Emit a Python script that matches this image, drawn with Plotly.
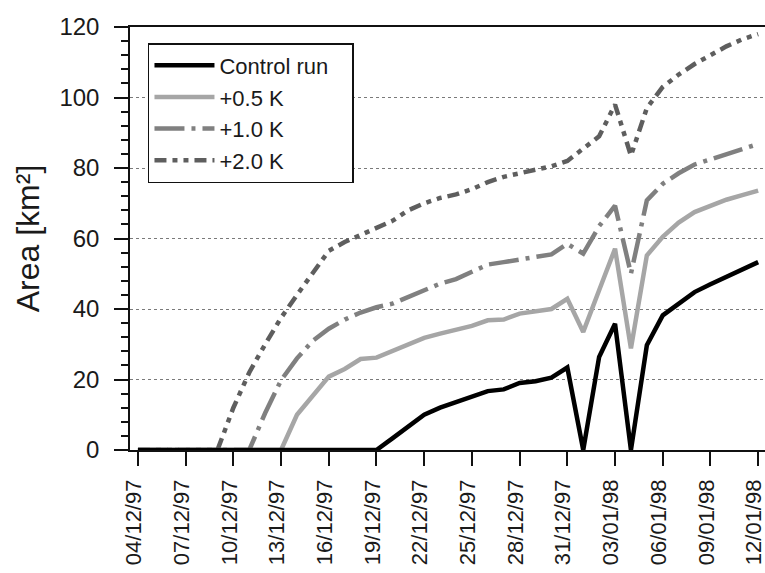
import pandas as pd
import plotly.graph_objects as go

start_date = "1997-12-04"
n_days = 40
dates = pd.date_range(start_date, periods=n_days, freq="D")

control_run = [0, 0, 0, 0, 0, 0, 0, 0, 0, 0,
               0, 0, 0, 0, 0, 0, 3.3, 6.7, 10, 12,
               13.5, 15, 16.7, 17.2, 19, 19.5, 20.5, 23.4, 0, 26.4,
               35.8, 0, 29.7, 38.2, 41.5, 44.8, 47, 49, 51, 53.3]
plus_05 = [0, 0, 0, 0, 0, 0, 0, 0, 0, 0,
           10, 15.5, 20.8, 23, 25.8, 26.2, 28, 30, 31.8, 33,
           34, 35.2, 36.8, 37, 38.7, 39.2, 40, 42.9, 33.5, 45.3,
           57.1, 28.8, 55.2, 60.5, 64.5, 67.5, 69.3, 71, 72.3, 73.6]
plus_10 = [0, 0, 0, 0, 0, 0, 0, 0, 10.5, 19.8,
           26, 31, 34.4, 37, 39, 40.5, 41.5, 43.5, 45.5, 47.2,
           48.5, 50.5, 52.6, 53.3, 54, 54.7, 55.5, 58.5, 55.7, 63.5,
           69.3, 50, 70.8, 75.5, 78.5, 81, 82.5, 84, 85.5, 86.8]
plus_20 = [0, 0, 0, 0, 0, 0, 12, 22, 30, 37.5,
           44, 50, 56.5, 59, 61, 63, 65, 68, 70, 71.5,
           72.5, 74, 76, 77.5, 78.5, 79.5, 80.5, 82, 85.5, 89,
           98, 83.5, 97, 103, 106.5, 109.5, 112, 114.5, 116.5, 118]

series_names = ["Control run", "+0.5 K", "+1.0 K", "+2.0 K"]
y_ticks = [0, 20, 40, 60, 80, 100, 120]

FONT = "Liberation Sans, Arial, sans-serif"

fig = go.Figure()
fig.add_trace(go.Scatter(x=dates, y=plus_20, name=series_names[3], mode="lines",
                         line=dict(color="#5e5e5e", width=4.5, dash="12px,6px,5px,6px,5px,6px")))
fig.add_trace(go.Scatter(x=dates, y=plus_10, name=series_names[2], mode="lines",
                         line=dict(color="#808080", width=4.5, dash="30px,7px,4px,7px")))
fig.add_trace(go.Scatter(x=dates, y=plus_05, name=series_names[1], mode="lines",
                         line=dict(color="#a6a6a6", width=4.5)))
fig.add_trace(go.Scatter(x=dates, y=control_run, name=series_names[0] + "\u00a0\u00a0\u00a0", mode="lines",
                         line=dict(color="#000000", width=4.5)))

x0 = pd.Timestamp(start_date) - pd.Timedelta(hours=12)
x1 = pd.Timestamp(start_date) + pd.Timedelta(days=39.43)

fig.update_layout(
    width=765, height=573,
    margin=dict(l=130, r=0, t=27, b=123),
    paper_bgcolor="white", plot_bgcolor="white",
    font=dict(family=FONT, size=23, color="#1a1a1a"),
    showlegend=True,
    legend=dict(x=0.0283, y=0.962, xanchor="left", yanchor="top",
                bgcolor="white", bordercolor="#111111", borderwidth=1.5,
                font=dict(family=FONT, size=22, color="#1a1a1a"),
                traceorder="reversed", itemwidth=60, tracegroupgap=0),
    xaxis=dict(
        type="date", range=[x0, x1], automargin=False,
        tick0=start_date, dtick=3 * 86400000, tickformat="%d/%m/%y",
        tickangle=-90, ticks="outside", ticklen=14, tickwidth=1.5, tickcolor="#111111",
        ticklabelstandoff=5, ticklabeloverflow="allow", ticklabelshift=-4,
        showline=True, linecolor="#111111", linewidth=1.5, mirror=True,
        showgrid=False, zeroline=False,
        tickfont=dict(family=FONT, size=22, color="#1a1a1a"),
    ),
    yaxis=dict(
        range=[0, 120], tickvals=y_ticks, automargin=False,
        ticks="outside", ticklen=14, tickwidth=1.5, tickcolor="#111111",
        ticklabelstandoff=10,
        minor=dict(dtick=4, ticks="outside", ticklen=7, tickwidth=1.5, tickcolor="#111111", showgrid=False),
        showline=True, linecolor="#111111", linewidth=1.5,
        showgrid=True, gridcolor="#7a7a7a", gridwidth=1, griddash="dot",
        zeroline=False,
        tickfont=dict(family=FONT, size=24, color="#1a1a1a"),
        title=dict(text="Area [km²]", font=dict(family=FONT, size=32, color="#1a1a1a"), standoff=10),
    ),
)

fig.write_html("out.html", config={"displayModeBar": False},
               post_script="document.body.style.margin='0px';")
